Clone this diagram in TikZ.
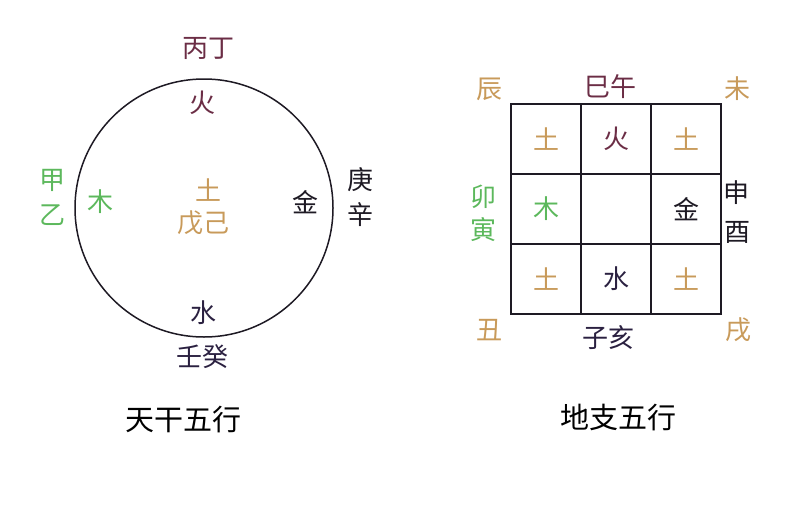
\documentclass[tikz,border=0pt]{standalone}
\usepackage{fontspec}
\newfontfamily\cjk{Noto Sans CJK SC}
\definecolor{fire}{HTML}{6B2D45}
\definecolor{wood}{HTML}{5CB85C}
\definecolor{earth}{HTML}{C89A5A}
\definecolor{metal}{HTML}{1E1A24}
\definecolor{water}{HTML}{2A2040}
\tikzset{
  lab/.style={font=\cjk\fontsize{26}{26}\selectfont, inner sep=0pt},
  title/.style={font=\cjk\fontsize{29}{29}\selectfont, inner sep=0pt, text=black},
  cellbox/.style={draw=metal, line width=1.6pt, minimum width=70pt, minimum height=70pt, inner sep=0pt},
}
\begin{document}
\begin{tikzpicture}[x=1pt,y=-1pt]
\useasboundingbox (0,0) rectangle (800,506);
% ---- left: Tian Gan ----
\node[draw=metal, line width=1.5pt, circle, minimum size=258pt, inner sep=0pt] (ring) at (204,208) {};
\node[lab, text=fire] (bingding) at (208,48) {丙丁};
\node[lab, text=fire] (huo1) at (202,103) {火};
\node[lab, text=wood] (jia) at (52,180) {甲};
\node[lab, text=wood] (yi) at (52,215) {乙};
\node[lab, text=wood] (mu1) at (100,202) {木};
\node[lab, text=earth] (tu1) at (208,190) {土};
\node[lab, text=earth] (wuji) at (203,223) {戊己};
\node[lab, text=metal] (jin1) at (305,202) {金};
\node[lab, text=metal] (geng) at (360,180) {庚};
\node[lab, text=metal] (xin) at (360,215) {辛};
\node[lab, text=water] (shui1) at (203,313) {水};
\node[lab, text=water] (rengui) at (202,357) {壬癸};
\node[title] (tiangan) at (183,420) {天干五行};
% ---- right: Di Zhi ----
\node[cellbox] (c11) at (546,139) {};
\node[cellbox] (c12) at (616,139) {};
\node[cellbox] (c13) at (686,139) {};
\node[cellbox] (c21) at (546,209) {};
\node[cellbox] (c22) at (616,209) {};
\node[cellbox] (c23) at (686,209) {};
\node[cellbox] (c31) at (546,279) {};
\node[cellbox] (c32) at (616,279) {};
\node[cellbox] (c33) at (686,279) {};
\node[lab, text=earth] at (c11) {土};
\node[lab, text=fire] at (c12) {火};
\node[lab, text=earth] at (c13) {土};
\node[lab, text=wood] at (c21) {木};
\node[lab, text=metal] at (c23) {金};
\node[lab, text=earth] at (c31) {土};
\node[lab, text=water] at (c32) {水};
\node[lab, text=earth] at (c33) {土};
\node[lab, text=earth] (chen) at (489,89) {辰};
\node[lab, text=fire] (siwu) at (610,87) {巳午};
\node[lab, text=earth] (wei) at (737,89) {未};
\node[lab, text=wood] (mao) at (483,197) {卯};
\node[lab, text=wood] (yin) at (483,230) {寅};
\node[lab, text=metal] (shen) at (736,193) {申};
\node[lab, text=metal] (you) at (737,232) {酉};
\node[lab, text=earth] (chou) at (489,330) {丑};
\node[lab, text=water] (zihai) at (608,338) {子亥};
\node[lab, text=earth] (xu) at (738,330) {戌};
\node[title] (dizhi) at (618,418) {地支五行};
\end{tikzpicture}
\end{document}
